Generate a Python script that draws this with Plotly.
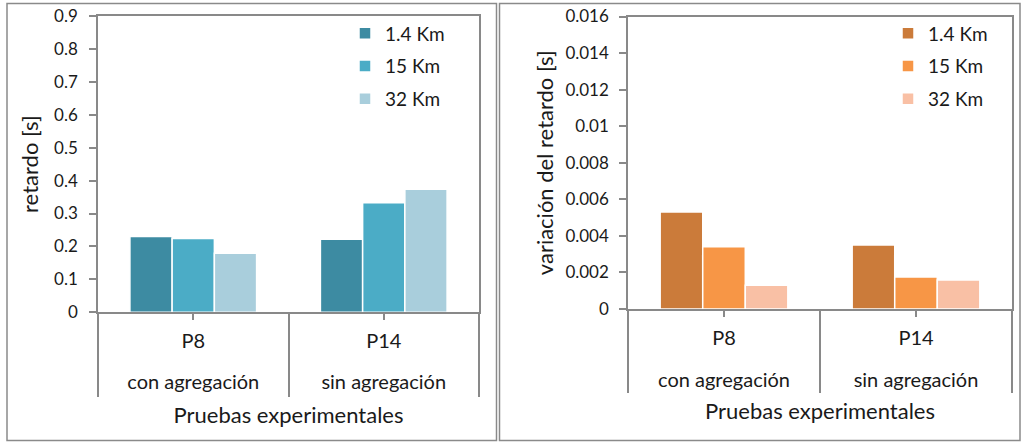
import plotly.graph_objects as go
from plotly.subplots import make_subplots

# Test groups (outer label) and their test identifiers (inner label)
grupos = ["con agregación", "sin agregación"]
pruebas = ["P8", "P14"]
distancias = ["1.4 Km", "15 Km", "32 Km"]

# Mean delay [s] per distance
retardo = {
    "1.4 Km": [0.23, 0.222],
    "15 Km": [0.224, 0.333],
    "32 Km": [0.179, 0.374],
}
# Delay variation [s] per distance
variacion = {
    "1.4 Km": [0.0053, 0.0035],
    "15 Km": [0.0034, 0.00175],
    "32 Km": [0.0013, 0.00159],
}

y1_ticks = [0, 0.1, 0.2, 0.3, 0.4, 0.5, 0.6, 0.7, 0.8, 0.9]
y1_text = ["0", "0.1", "0.2", "0.3", "0.4", "0.5", "0.6", "0.7", "0.8", "0.9"]
y2_ticks = [0, 0.002, 0.004, 0.006, 0.008, 0.01, 0.012, 0.014, 0.016]
y2_text = ["0", "0.002", "0.004", "0.006", "0.008", "0.01", "0.012", "0.014", "0.016"]

azules = ["#3D8BA2", "#4BACC6", "#A9CEDC"]
naranjas = ["#CB7B3A", "#F79646", "#F9C0A5"]

FONT = "Lato"
LINE = "#898989"
TXT = "#1a1a1a"
H = 442.0


def py(px):
    """pixel row (from top) -> paper fraction"""
    return 1 - px / H


fig = make_subplots(rows=1, cols=2)

for i, d in enumerate(distancias):
    fig.add_trace(go.Bar(
        x=pruebas, y=retardo[d], name=d, marker_color=azules[i],
        marker_line=dict(color="white", width=1.5),
        legend="legend", legendgroup="a" + d,
    ), row=1, col=1)
for i, d in enumerate(distancias):
    fig.add_trace(go.Bar(
        x=pruebas, y=variacion[d], name=d, marker_color=naranjas[i],
        marker_line=dict(color="white", width=1.5),
        legend="legend2", legendgroup="b" + d,
    ), row=1, col=2)

# empty helper traces so the divider / group-label axes get drawn
for xa, ya in [("x3", "y"), ("x4", "y2"), ("x5", "y"), ("x6", "y2")]:
    fig.add_trace(go.Scatter(x=[], y=[], xaxis=xa, yaxis=ya,
                             showlegend=False, hoverinfo="skip"))

cat_range = [-0.5, len(pruebas) - 0.5]
bordes = [k - 0.5 for k in range(len(pruebas) + 1)]  # category boundaries

# inner category axis (P8 / P14)
x_main = dict(
    type="category", range=cat_range, automargin=False,
    showline=True, linecolor=LINE, linewidth=1.5, mirror=True,
    ticks="outside", ticklen=6, tickcolor=LINE, tickwidth=1.5,
    tickfont=dict(family=FONT, size=20, color=TXT), ticklabelstandoff=4,
    showgrid=False, zeroline=False,
)
# divider lines running below the plot area at the category boundaries
x_div = dict(
    type="linear", range=cat_range, automargin=False,
    tickvals=bordes, ticks="outside", tickcolor=LINE, tickwidth=1.5,
    showticklabels=False, showline=False, showgrid=False, zeroline=False,
)
# outer group labels (the axis title is added per panel)
x_grp = dict(
    type="linear", range=cat_range, automargin=False, anchor="free",
    tickvals=list(range(len(grupos))), ticktext=grupos, ticks="",
    tickfont=dict(family=FONT, size=20, color=TXT),
    showline=False, showgrid=False, zeroline=False,
)
titulo_x = "Pruebas experimentales"
y_common = dict(
    automargin=False,
    showline=True, linecolor=LINE, linewidth=1.5, mirror=True,
    ticks="outside", ticklen=7, tickcolor=LINE, tickwidth=1.5,
    tickfont=dict(family=FONT, size=17, color=TXT),
    showgrid=False, zeroline=False,
)
legend_common = dict(
    xanchor="left", yanchor="top", font=dict(family=FONT, size=19, color=TXT),
    bgcolor="rgba(0,0,0,0)", tracegroupgap=5, itemwidth=30,
)

fig.update_layout(
    width=1024, height=442,
    margin=dict(l=0, r=0, t=0, b=0),
    paper_bgcolor="white", plot_bgcolor="white",
    barmode="group", bargap=0.335, bargroupgap=0,
    xaxis=dict(domain=[98 / 1024, 479 / 1024], **x_main),
    xaxis2=dict(domain=[628 / 1024, 1012 / 1024], **x_main),
    xaxis3=dict(overlaying="x", anchor="y", ticklen=84, **x_div),
    xaxis4=dict(overlaying="x2", anchor="y2", ticklen=83, **x_div),
    xaxis5=dict(overlaying="x", position=py(368),
                title=dict(text=titulo_x, font=dict(family=FONT, size=22, color=TXT), standoff=15),
                **x_grp),
    xaxis6=dict(overlaying="x2", position=py(366),
                title=dict(text=titulo_x, font=dict(family=FONT, size=22, color=TXT), standoff=13),
                **x_grp),
    yaxis=dict(domain=[py(312.3), py(16)], range=[0, 0.9],
               tickvals=y1_ticks, ticktext=y1_text, ticklabelstandoff=8,
               title=dict(text="retardo [s]", font=dict(family=FONT, size=22, color=TXT), standoff=9),
               **y_common),
    yaxis2=dict(domain=[py(309), py(16.5)], range=[0, 0.016],
                tickvals=y2_ticks, ticktext=y2_text, ticklabelstandoff=7,
                title=dict(text="variación del retardo [s]", font=dict(family=FONT, size=22, color=TXT), standoff=6),
                **y_common),
    legend=dict(x=345 / 1024, y=py(14.5), **legend_common),
    legend2=dict(x=888 / 1024, y=py(14.5), **legend_common),
    shapes=[
        dict(type="rect", xref="paper", yref="paper",
             x0=7 / 1024, x1=496.5 / 1024, y0=py(440.5), y1=py(3.5),
             line=dict(color="#8a8a8a", width=1.5)),
        dict(type="rect", xref="paper", yref="paper",
             x0=499.5 / 1024, x1=1020 / 1024, y0=py(440.5), y1=py(3.5),
             line=dict(color="#8a8a8a", width=1.5)),
    ],
)

fig.write_html("out.html")
